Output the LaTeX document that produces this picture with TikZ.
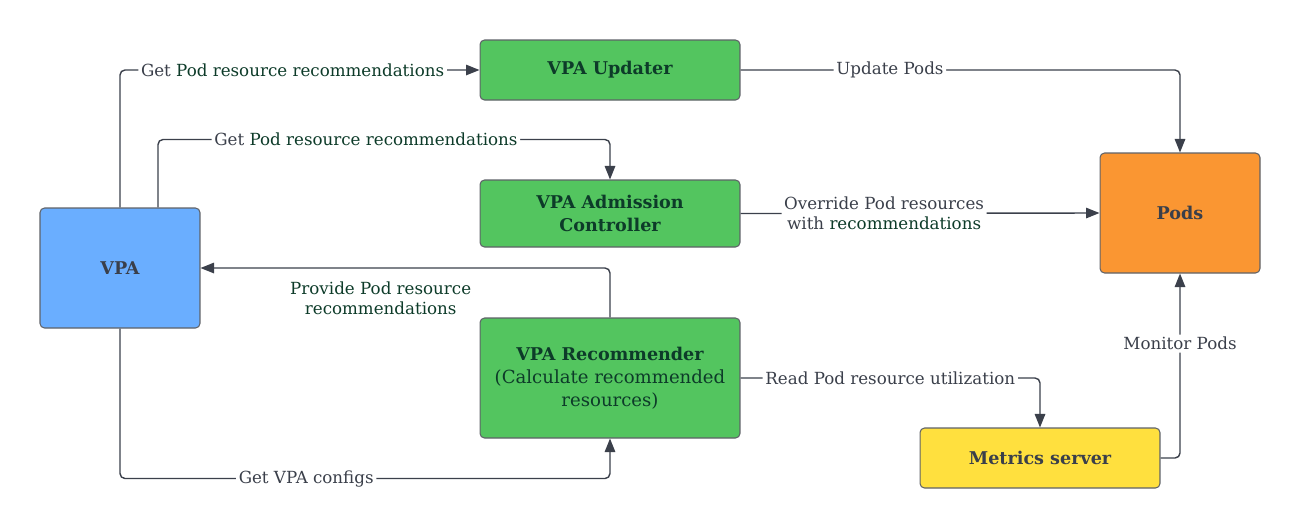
\documentclass[tikz,border=0pt]{standalone}
\usepackage{fontspec}
\setmainfont{DejaVu Serif}
\usetikzlibrary{arrows.meta}
\definecolor{cBlue}{HTML}{6AAEFF}
\definecolor{cGreen}{HTML}{53C55F}
\definecolor{cOrange}{HTML}{FA9632}
\definecolor{cYellow}{HTML}{FFE03E}
\definecolor{cBorder}{HTML}{5F6268}
\definecolor{cLine}{HTML}{3B404B}
\definecolor{cGray}{HTML}{3A3F4A}
\definecolor{cDkGreen}{HTML}{0D3B29}
\tikzset{
  box/.style={draw=cBorder, line width=0.6pt, rounded corners=0.09cm, align=center,
    inner sep=0pt, text=cGray, font=\bfseries\fontsize{10}{13}\selectfont},
  link/.style={draw=cLine, line width=0.8pt, rounded corners=0.1cm,
    -{Triangle[length=0.27cm,width=0.21cm]}},
  lbl/.style={fill=white, inner sep=1.5pt, align=center, text=cGray,
    font=\fontsize{9.5}{11.4}\selectfont},
}
\newcommand{\gn}[1]{\textcolor{cDkGreen}{#1}}
\begin{document}
\begin{tikzpicture}[x=0.02cm, y=-0.02cm]
\useasboundingbox (0,0) rectangle (1300,529);

\coordinate (cVPAPt) at (120,268);
\coordinate (cUpdPt) at (610,70);
\coordinate (cAdmPt) at (610,213.5);
\coordinate (cRecPt) at (610,378);
\coordinate (cPodsPt) at (1180,213);
\coordinate (cMetPt) at (1040,458);

\node[box, fill=cBlue, minimum width=3.2cm, minimum height=2.4cm] (nVPA) at (cVPAPt) {VPA};
\node[box, fill=cGreen, text=cDkGreen, minimum width=5.2cm, minimum height=1.2cm] (nUpd) at (cUpdPt) {VPA Updater};
\node[box, fill=cGreen, text=cDkGreen, minimum width=5.2cm, minimum height=1.34cm] (nAdm) at (cAdmPt) {VPA Admission\\Controller};
\node[box, fill=cGreen, text=cDkGreen, minimum width=5.2cm, minimum height=2.4cm] (nRec) at (cRecPt)
  {VPA Recommender\\{\mdseries\fontsize{10.3}{13}\selectfont(Calculate recommended}\\{\mdseries\fontsize{10.3}{13}\selectfont resources)}};
\node[box, fill=cOrange, minimum width=3.2cm, minimum height=2.4cm] (nPods) at (cPodsPt) {Pods};
\node[box, fill=cYellow, minimum width=4.8cm, minimum height=1.2cm] (nMet) at (cMetPt) {Metrics server};

\draw[link] (nVPA.north) |- node[lbl, pos=0.74] {Get \gn{Pod resource recommendations}} (nUpd.west);
\draw[link] ([xshift=0.76cm]nVPA.north) |- node[lbl, pos=0.73] {Get \gn{Pod resource recommendations}}
  ([yshift=0.8cm]nAdm.north) -- (nAdm.north);
\draw[link] (nRec.north) |- node[lbl, pos=0.78, below=0.2cm, fill=none, text=cDkGreen] {Provide Pod resource\\recommendations} (nVPA.east);
\draw[link] (nVPA.south) |- node[lbl, pos=0.69] {Get VPA configs}
  ([yshift=-0.8cm]nRec.south) -- (nRec.south);

\draw[link] (nUpd.east) -| node[lbl, pos=0.17] {Update Pods} (nPods.north);
\draw[link] (nAdm.east) -- node[lbl, pos=0.4] {Override Pod resources\\with \gn{recommendations}} (nPods.west);
\draw[link] (nRec.east) -| node[lbl, pos=0.25] {Read Pod resource utilization} (nMet.north);
\draw[link] (nMet.east) -| node[lbl, pos=0.81] {Monitor Pods} (nPods.south);

\end{tikzpicture}
\end{document}
